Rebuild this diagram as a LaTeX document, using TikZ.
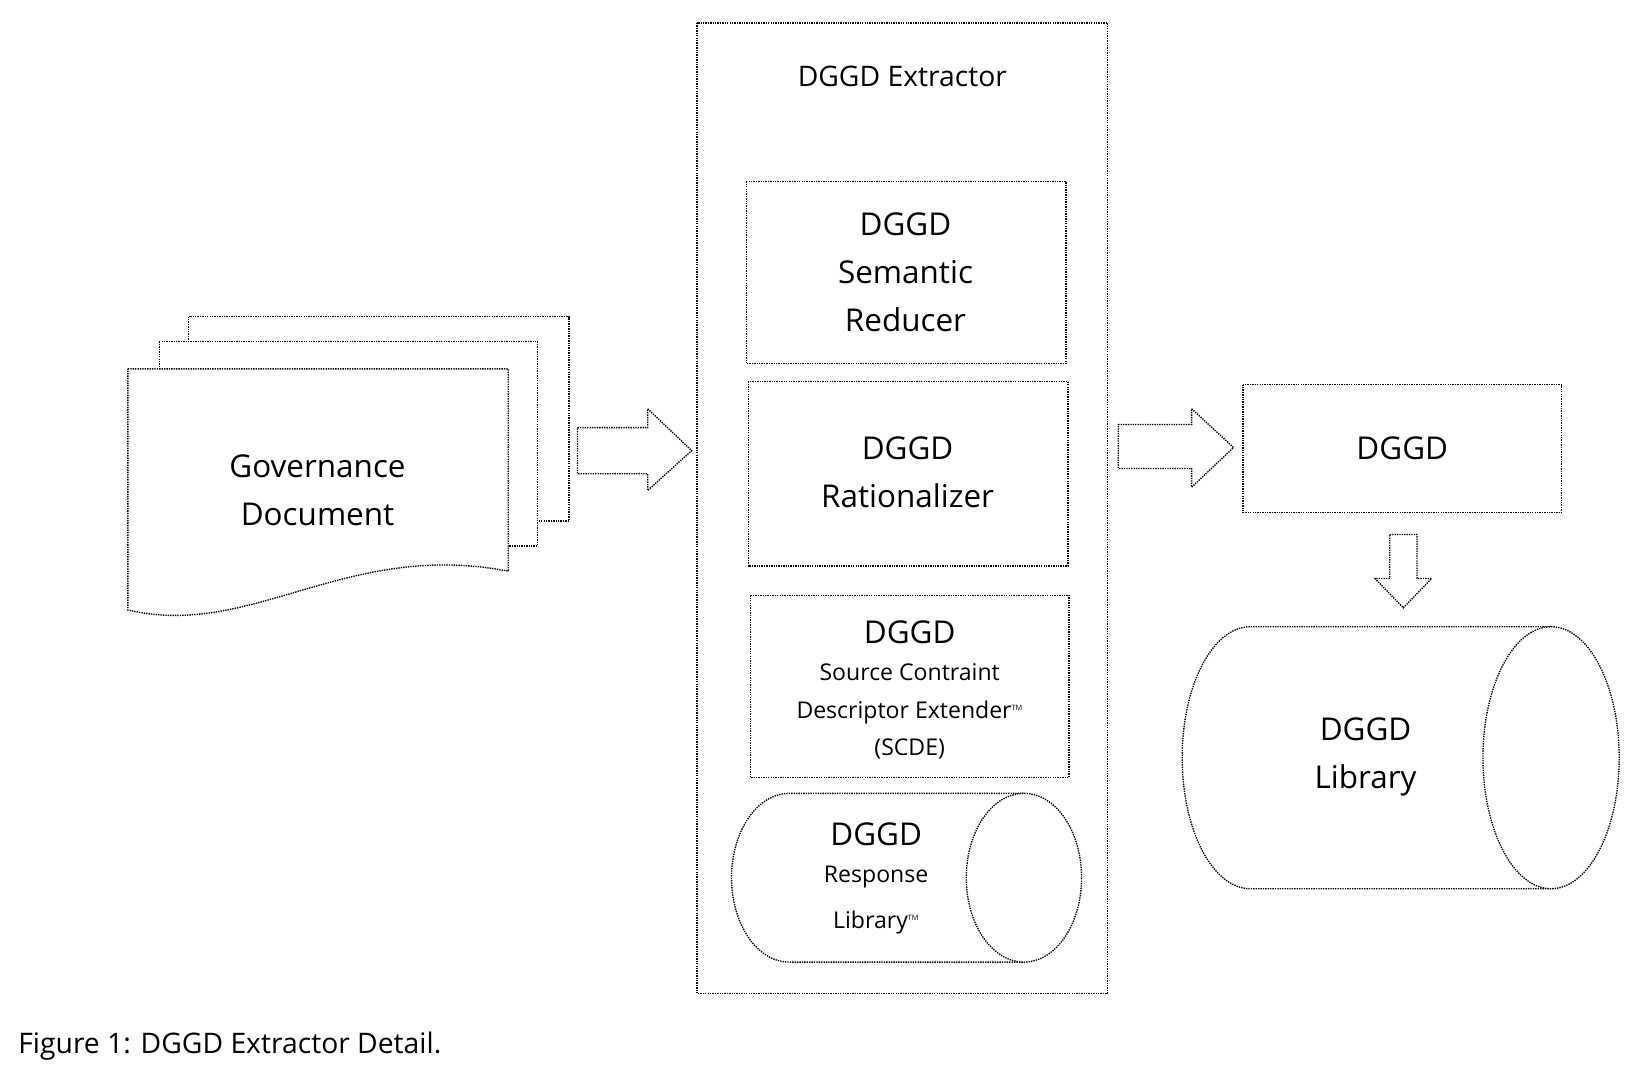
\documentclass[tikz,border=0pt]{standalone}
\usepackage{fontspec}
\setmainfont{Open Sans}
\begin{document}
\begin{tikzpicture}[x=1pt,y=-1pt,
  dl/.style={draw=black,line width=1.3pt,densely dotted},
  bx/.style={dl,fill=white},
  big/.style={font=\fontsize{30}{46}\selectfont,align=center},
  small/.style={font=\fontsize{22}{36}\selectfont,align=center}]
\useasboundingbox (0,0) rectangle (1562,1030);
\fill[white] (0,0) rectangle (1562,1030);
% extractor
\draw[dl] (665,22) rectangle (1057,948);
\node[big,font=\fontsize{27}{30}\selectfont] (title) at (861,73) {DGGD Extractor};
\draw[bx] (712,173) rectangle (1017,347);
\node[big] (sr) at (864,260) {DGGD\\Semantic\\Reducer};
\draw[bx] (714,364) rectangle (1019,540);
\node[big] (ra) at (866,451) {DGGD\\Rationalizer};
\draw[bx] (716,568) rectangle (1020,742);
\node[big] (sc1) at (868,603) {DGGD};
\node[small] (sc2) at (868,679) {Source Contraint\\Descriptor Extender\textsuperscript{\scriptsize TM}\\(SCDE)};
% response library cylinder
\draw[bx] (977,757) -- (753,757) arc (90:270:55pt and 80.5pt) -- (977,918);
\draw[bx] (977,837.5) ellipse (55pt and 80.5pt);
\node[big] (rl1) at (836,796) {DGGD};
\node[small,font=\fontsize{22}{44}\selectfont] (rl2) at (836,859) {Response\\Library\textsuperscript{\scriptsize TM}};
% governance document
\draw[bx] (180,302) rectangle (543,497);
\draw[bx] (152,326) rectangle (513,521);
\draw[bx] (122,352) -- (485,352) -- (485,545) .. controls (330,515) and (240,610) .. (122,582) -- cycle;
\node[big] (gd) at (303,468) {Governance\\Document};
% arrows
\draw[bx] (551,408) -- (618,408) -- (618,390) -- (660,430) -- (618,468) -- (618,452) -- (551,452) -- cycle;
\draw[bx] (1067,405) -- (1137,405) -- (1137,390) -- (1177,427) -- (1137,465) -- (1137,447) -- (1067,447) -- cycle;
\draw[bx] (1326,510) -- (1352,510) -- (1352,552) -- (1366,552) -- (1339,580) -- (1312,552) -- (1326,552) -- cycle;
% DGGD box
\draw[bx] (1186,367) rectangle (1490,489);
\node[big] (dg) at (1338,428) {DGGD};
% library cylinder
\draw[bx] (1480,598) -- (1193,598) arc (90:270:65pt and 125pt) -- (1480,848);
\draw[bx] (1480,723) ellipse (65pt and 125pt);
\node[big] (lib) at (1303,722) {DGGD\\Library};
\node[anchor=west,font=\fontsize{27}{30}\selectfont] (cap) at (14,998) {Figure 1: DGGD Extractor Detail.};
\end{tikzpicture}
\end{document}
